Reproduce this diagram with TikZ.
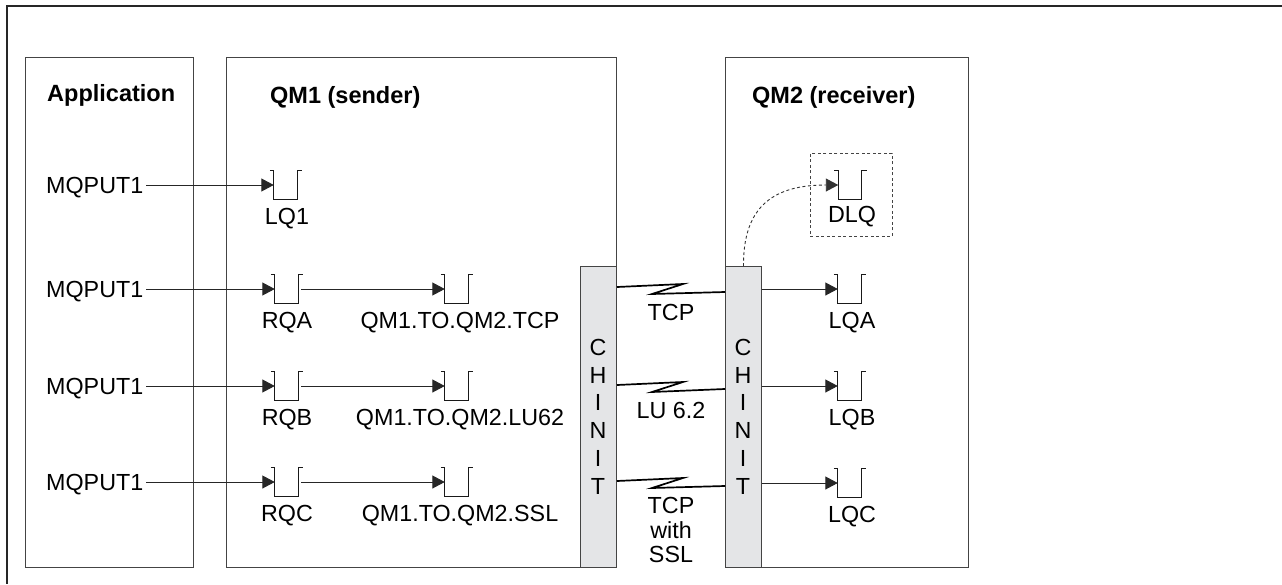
\documentclass[tikz,border=0pt]{standalone}
\usepackage{fontspec}
\setmainfont{Liberation Sans}
\usetikzlibrary{arrows.meta,calc}
\definecolor{chfill}{HTML}{E4E5E7}
\definecolor{boxline}{HTML}{444444}
\newcommand{\qshape}[1]{\draw[qline] ([xshift=-4pt]#1.north west) -- (#1.north west) -- (#1.south west) -- (#1.south east) -- (#1.north east) -- ([xshift=5pt]#1.north east);}
\begin{document}
\begin{tikzpicture}[x=1pt,y=-1pt,
  lbl/.style={inner sep=0pt, font=\fontsize{23.3}{28}\selectfont, text height=16.7pt, text depth=0pt},
  ttl/.style={lbl, font=\fontsize{23.5}{28}\selectfont\bfseries},
  frame/.style={draw=boxline, line width=1pt, inner sep=0pt, anchor=north west},
  chbox/.style={draw=boxline, line width=1pt, fill=chfill, inner sep=0pt, minimum width=36pt, minimum height=301pt, anchor=north west},
  queue/.style={inner sep=0pt, minimum width=23pt, minimum height=28pt},
  qline/.style={draw=black!90, line width=1.1pt},
  flow/.style={draw=black!85, line width=1pt, -{Triangle[length=12.5pt,width=13pt]}},
  link/.style={draw=black, line width=1.7pt, line join=miter},
  dlqline/.style={draw=black!80, line width=0.9pt, dash pattern=on 3pt off 2.5pt, -{Triangle[length=12.5pt,width=13pt]}},
]
\useasboundingbox (0,0) rectangle (1282,584);
% outer figure frame
\draw[line width=2pt, black!85] (1282,6) -- (7,6) -- (7,584);

% main boxes
\node[frame, minimum width=168pt, minimum height=510pt] (app) at (25,57) {};
\node[frame, minimum width=390pt, minimum height=510pt] (qm1) at (226,57) {};
\node[frame, minimum width=243pt, minimum height=510pt] (qm2) at (725,57) {};
\node[frame, dashed, dash pattern=on 3pt off 2.5pt, line width=0.9pt, minimum width=82pt, minimum height=83pt] (dlqbox) at (810,153) {};

% titles
\node[ttl, anchor=west] (tapp) at (47,93) {Application};
\node[ttl, anchor=west] (tqm1) at (270,95) {QM1 (sender)};
\node[ttl, anchor=west] (tqm2) at (752,95) {QM2 (receiver)};

% CHINIT boxes
\node[chbox] (chl) at (580,266) {};
\node[chbox] (chr) at (725,266) {};
\foreach \ch [count=\i] in {C,H,I,N,I,T} {
  \pgfmathsetmacro{\yy}{347+27.8*(\i-1)}
  \node[lbl] (chlt\i) at (598,\yy) {\ch};
  \node[lbl] (chrt\i) at (743,\yy) {\ch};
}

% application puts
\node[lbl, anchor=west] (mq1) at (46,185) {MQPUT1};
\node[lbl, anchor=west] (mq2) at (46,289) {MQPUT1};
\node[lbl, anchor=west] (mq3) at (46,386) {MQPUT1};
\node[lbl, anchor=west] (mq4) at (46,482) {MQPUT1};

% sender queues
\node[queue] (lq1) at (285.5,185) {};
\node[queue] (rqa) at (286.5,289) {};
\node[queue] (rqb) at (286.5,386) {};
\node[queue] (rqc) at (286.5,482) {};
\node[queue] (xqa) at (456.5,289) {};
\node[queue] (xqb) at (456.5,386) {};
\node[queue] (xqc) at (456.5,482) {};
\foreach \q in {lq1,rqa,rqb,rqc,xqa,xqb,xqc} { \qshape{\q} }

\node[lbl] (llq1) at (287,216) {LQ1};
\node[lbl] (lrqa) at (287,320) {RQA};
\node[lbl] (lrqb) at (287,417) {RQB};
\node[lbl] (lrqc) at (287,513) {RQC};
\node[lbl] (lxqa) at (460,320) {QM1.TO.QM2.TCP};
\node[lbl] (lxqb) at (460,417) {QM1.TO.QM2.LU62};
\node[lbl] (lxqc) at (460,513) {QM1.TO.QM2.SSL};

\draw[flow, shorten <=3pt] (mq1.east) -- (lq1.west);
\draw[flow, shorten <=3pt] (mq2.east) -- (rqa.west);
\draw[flow, shorten <=3pt] (mq3.east) -- (rqb.west);
\draw[flow, shorten <=3pt] (mq4.east) -- (rqc.west);
\draw[flow, shorten <=3pt] (rqa.east) -- (xqa.west);
\draw[flow, shorten <=3pt] (rqb.east) -- (xqb.west);
\draw[flow, shorten <=3pt] (rqc.east) -- (xqc.west);

% receiver queues
\node[queue] (dlq) at (850,185) {};
\node[queue] (lqa) at (849.5,289) {};
\node[queue] (lqb) at (849.5,386) {};
\node[queue] (lqc) at (849.5,483) {};
\foreach \q in {dlq,lqa,lqb,lqc} { \qshape{\q} }
\node[lbl] (ldlq) at (852,214) {DLQ};
\node[lbl] (llqa) at (852,320) {LQA};
\node[lbl] (llqb) at (852,417) {LQB};
\node[lbl] (llqc) at (852,514) {LQC};

\draw[flow] (chr.east |- lqa.west) -- (lqa.west);
\draw[flow] (chr.east |- lqb.west) -- (lqb.west);
\draw[flow] (chr.east |- lqc.west) -- (lqc.west);
\draw[dlqline] (chr.north) .. controls (743,205) and (775,185) .. (dlq.west);

% channel links
\draw[link] (chl.east |- 0,287) -- (683,284) -- (652,294) -- (chr.west |- 0,292);
\draw[link] (chl.east |- 0,385) -- (683,382) -- (652,392) -- (chr.west |- 0,389);
\draw[link] (chl.east |- 0,481) -- (683,478) -- (652,488) -- (chr.west |- 0,486);
\node[lbl] (ltcp) at (671,312) {TCP};
\node[lbl] (llu) at (671,410) {LU 6.2};
\node[lbl] (lssl1) at (671,505) {TCP};
\node[lbl] (lssl2) at (671,530) {with};
\node[lbl] (lssl3) at (671,554) {SSL};
\end{tikzpicture}
\end{document}
